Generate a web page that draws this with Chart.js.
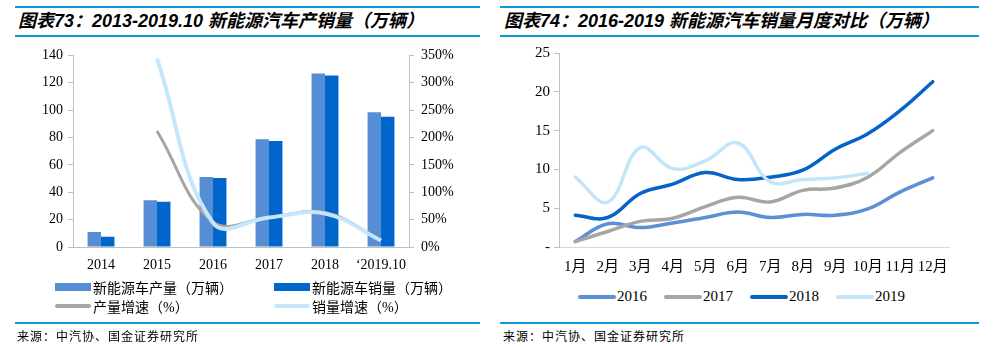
<!DOCTYPE html>
<html>
<head>
<meta charset="utf-8">
<script src="https://cdn.jsdelivr.net/npm/chart.js@4/dist/chart.umd.min.js"></script>
<style>
  body { margin: 0; width: 1003px; height: 350px; background: #fff; position: relative; overflow: hidden; }
  .abs { position: absolute; }
  .rule { position: absolute; background: #0f9ad7; }
  .title { position: absolute; top: 10px; font-family: "Liberation Sans", "Noto Sans CJK SC", sans-serif; font-weight: bold; font-style: italic; font-size: 18px; color: #000; white-space: nowrap; line-height: 22px; }
  .src { position: absolute; top: 328px; font-family: "Noto Sans CJK SC", sans-serif; font-size: 12px; letter-spacing: 1px; color: #000; white-space: nowrap; line-height: 16px; }
  .leg { position: absolute; font-family: "Liberation Serif", "Noto Sans CJK SC", serif; color: #000; white-space: nowrap; }
  .leg .it { position: absolute; height: 19px; display: flex; align-items: center; }
  .leg .sw { display: inline-block; }
</style>
</head>
<body>
<div class="rule" style="left:15px;top:6px;width:465px;height:2px"></div>
<div class="rule" style="left:15px;top:35px;width:465px;height:1.5px"></div>
<div class="rule" style="left:500px;top:6px;width:479px;height:2px"></div>
<div class="rule" style="left:500px;top:35px;width:479px;height:1.5px"></div>
<div class="title" style="left:18px">图表73：2013-2019.10 新能源汽车产销量（万辆）</div>
<div class="title" style="left:504px">图表74：2016-2019 新能源汽车销量月度对比（万辆）</div>

<canvas id="c1" class="abs" style="left:0;top:40px" width="480" height="240"></canvas>
<canvas id="c2" class="abs" style="left:500px;top:40px" width="480" height="240"></canvas>
<div id="leg1" class="leg" style="left:0;top:277px;width:480px;height:40px;font-size:14px"></div>
<div id="leg2" class="leg" style="left:500px;top:287px;width:480px;height:20px;font-size:15px"></div>

<div class="rule" style="left:15px;top:322px;width:465px;height:2px"></div>
<div class="rule" style="left:500px;top:322px;width:479px;height:2px"></div>
<div class="src" style="left:17px">来源：中汽协、国金证券研究所</div>
<div class="src" style="left:503px">来源：中汽协、国金证券研究所</div>

<script>
// 图表73 产销量 + 增速
const years = ['2014', '2015', '2016', '2017', '2018', '\u20182019.10'];
const production = [11, 34.2, 51.2, 78.8, 126.8, 98.5];
const sales = [7.5, 33.1, 50.5, 77.4, 125.4, 95.2];
const prodGrowth = [null, 212, 46, 54, 63, 12];
const salesGrowth = [null, 344, 44, 54, 61, 12];

// 图表74 月度销量
const months = ['1月', '2月', '3月', '4月', '5月', '6月', '7月', '8月', '9月', '10月', '11月', '12月'];
const s2016 = [0.7, 3.0, 2.5, 3.1, 3.8, 4.5, 3.8, 4.2, 4.1, 4.9, 7.1, 8.9];
const s2017 = [0.7, 2.0, 3.3, 3.7, 5.2, 6.4, 5.8, 7.3, 7.6, 9.0, 12.2, 15.0];
const s2018 = [4.1, 3.8, 6.9, 8.1, 9.6, 8.7, 9.0, 9.9, 12.6, 14.6, 17.6, 21.3];
const s2019 = [9.0, 5.8, 12.8, 10.1, 11.1, 13.4, 8.4, 8.7, 8.9, 9.5];
const yearNames = ['2016', '2017', '2018', '2019'];

const axisGray = '#bfbfbf';
const tickFont = (size) => ({ family: '"Liberation Serif", "Noto Sans CJK SC", serif', size: size });

new Chart(document.getElementById('c1'), {
    type: 'bar',
    data: {
        labels: years,
        datasets: [
            { type: 'bar', label: '新能源车产量（万辆）', data: production, backgroundColor: '#558ed5', yAxisID: 'y', order: 2, barPercentage: 1, categoryPercentage: 0.48 },
            { type: 'bar', label: '新能源车销量（万辆）', data: sales, backgroundColor: '#0066cc', yAxisID: 'y', order: 2, barPercentage: 1, categoryPercentage: 0.48 },
            { type: 'line', label: '产量增速（%）', data: prodGrowth, borderColor: '#a6a6a6', borderWidth: 3, tension: 0.4, pointRadius: 0, yAxisID: 'y1', order: 1 },
            { type: 'line', label: '销量增速（%）', data: salesGrowth, borderColor: '#c6e7fb', borderWidth: 4, tension: 0.4, pointRadius: 0, yAxisID: 'y1', order: 0 }
        ]
    },
    options: {
        responsive: false,
        animation: false,
        layout: { padding: { top: 11, left: 0, right: 0, bottom: 0 } },
        plugins: { legend: { display: false }, tooltip: { enabled: false } },
        scales: {
            x: {
                grid: { display: false },
                border: { color: axisGray },
                ticks: { color: '#000', font: tickFont(14), padding: 2, maxRotation: 0 },
                afterFit: s => { s.height = 33; }
            },
            y: {
                position: 'left', min: 0, max: 140,
                grid: { drawOnChartArea: false, color: axisGray, tickLength: 5 },
                border: { color: axisGray },
                ticks: { stepSize: 20, color: '#000', font: tickFont(14), padding: 5 },
                afterFit: s => { s.width = 73; }
            },
            y1: {
                position: 'right', min: 0, max: 350,
                grid: { drawOnChartArea: false, color: axisGray, tickLength: 5 },
                border: { color: axisGray },
                ticks: { stepSize: 50, color: '#000', font: tickFont(14), padding: 7, callback: v => v + '%' },
                afterFit: s => { s.width = 71; }
            }
        }
    }
});

const yearColors = ['#5b8fd6', '#a6a6a6', '#0563c8', '#c2e5fa'];
const yearData = [s2016, s2017, s2018, s2019];

new Chart(document.getElementById('c2'), {
    type: 'line',
    data: {
        labels: months,
        datasets: yearData.map((d, i) => ({
            label: yearNames[i], data: d, borderColor: yearColors[i], borderWidth: 3.5,
            tension: 0.4, pointRadius: 0, order: 3 - i, borderCapStyle: 'round'
        }))
    },
    options: {
        responsive: false,
        animation: false,
        layout: { padding: { top: 12, left: 0, right: 31, bottom: 0 } },
        plugins: { legend: { display: false }, tooltip: { enabled: false } },
        scales: {
            x: {
                offset: true,
                grid: { display: false },
                border: { color: '#d9d9d9' },
                ticks: { color: '#000', font: tickFont(15), padding: 3, maxRotation: 0, autoSkip: false },
                afterFit: s => { s.height = 33; }
            },
            y: {
                min: 0, max: 25,
                grid: { drawOnChartArea: false, color: axisGray, tickLength: 5 },
                border: { color: axisGray },
                ticks: { stepSize: 5, color: '#000', font: tickFont(15), padding: 4, callback: v => v === 0 ? '-' : v },
                afterFit: s => { s.width = 59; }
            }
        }
    }
});

// legends
const leg1 = document.getElementById('leg1');
const leg1Items = [
    { text: '新能源车产量（万辆）', color: '#558ed5', h: 8 },
    { text: '新能源车销量（万辆）', color: '#0066cc', h: 8 },
    { text: '产量增速（%）', color: '#a6a6a6', h: 4 },
    { text: '销量增速（%）', color: '#c6e7fb', h: 4 }
];
leg1Items.forEach((it, i) => {
    const el = document.createElement('div');
    el.className = 'it';
    el.style.left = (55 + (i % 2) * 219) + 'px';
    el.style.top = (Math.floor(i / 2) * 19) + 'px';
    el.innerHTML = '<span class="sw" style="width:36px;height:' + it.h + 'px;background:' + it.color +
        ';border-radius:' + (it.h < 8 ? 2 : 0) + 'px;margin-right:2px"></span>' + it.text;
    leg1.appendChild(el);
});

const leg2 = document.getElementById('leg2');
yearNames.forEach((n, i) => {
    const el = document.createElement('div');
    el.className = 'it';
    el.style.left = (78 + i * 86) + 'px';
    el.style.top = '0px';
    el.innerHTML = '<span class="sw" style="width:38px;height:4px;border-radius:2px;background:' + yearColors[i] +
        ';margin-right:1px"></span>' + n;
    leg2.appendChild(el);
});
</script>
</body>
</html>
